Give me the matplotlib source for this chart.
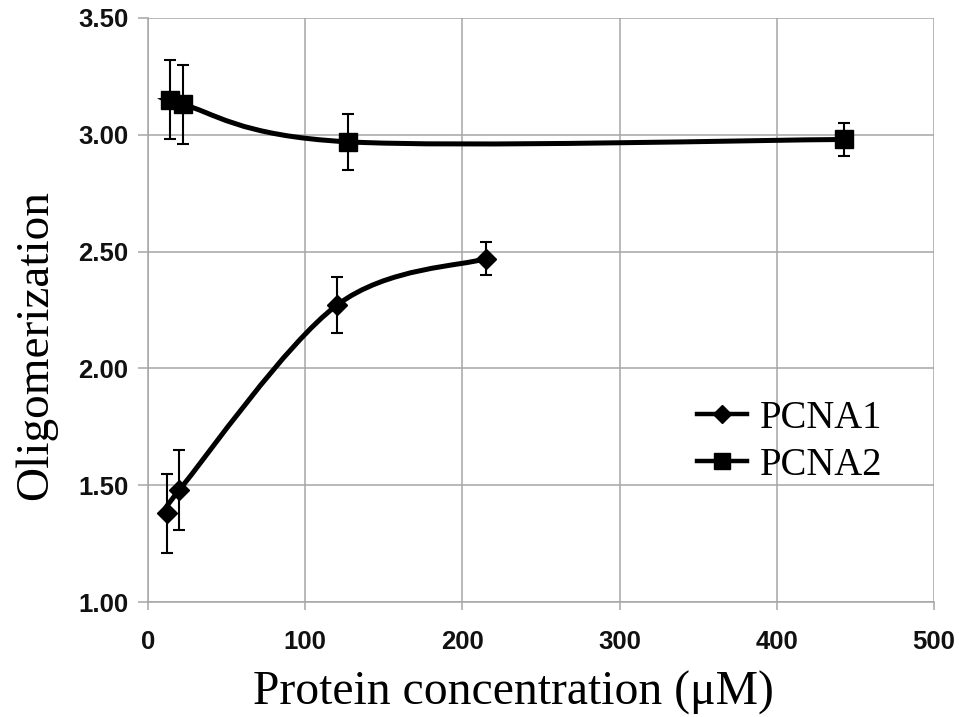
import numpy as np
import matplotlib
matplotlib.use("Agg")
import matplotlib.pyplot as plt
from matplotlib.path import Path
from matplotlib.patches import PathPatch
from matplotlib.lines import Line2D

# ---- data ----
pcna1_x = [12, 20, 120, 215]
pcna1_y = [1.38, 1.48, 2.27, 2.47]
pcna1_err_lo = [0.17, 0.17, 0.12, 0.07]
pcna1_err_hi = [0.17, 0.17, 0.12, 0.07]

pcna2_x = [14, 22, 127, 443]
pcna2_y = [3.15, 3.13, 2.97, 2.98]
pcna2_err_lo = [0.17, 0.17, 0.12, 0.07]
pcna2_err_hi = [0.17, 0.17, 0.12, 0.07]

series_names = ["PCNA1", "PCNA2"]
x_ticks = [0, 100, 200, 300, 400, 500]
y_ticks = [1.00, 1.50, 2.00, 2.50, 3.00, 3.50]
x_label = "Protein concentration (\u03bcM)"
y_label = "Oligomerization"

GRID = "#a6a6a6"

fig = plt.figure(figsize=(9.59, 7.17), dpi=100)
ax = fig.add_axes([148/959, 1 - 602/717, 786/959, 584/717])


def smooth_path(xs, ys):
    """Excel-like smoothed line (Catmull-Rom as cubic Bezier)."""
    pts = np.column_stack([xs, ys]).astype(float)
    n = len(pts)
    verts = [pts[0]]
    codes = [Path.MOVETO]
    for i in range(n - 1):
        p0 = pts[i - 1] if i > 0 else pts[i]
        p1 = pts[i]
        p2 = pts[i + 1]
        p3 = pts[i + 2] if i + 2 < n else pts[i + 1]
        c1 = p1 + (p2 - p0) / 6.0
        c2 = p2 - (p3 - p1) / 6.0
        verts += [c1, c2, p2]
        codes += [Path.CURVE4] * 3
    return Path(verts, codes)


for xs, ys in [(pcna1_x, pcna1_y), (pcna2_x, pcna2_y)]:
    ax.add_patch(PathPatch(smooth_path(xs, ys), fill=False, lw=3.6,
                           edgecolor="black", zorder=3, capstyle="round"))

ax.errorbar(pcna1_x, pcna1_y, yerr=[pcna1_err_lo, pcna1_err_hi], fmt="D",
            ms=10, color="black", ecolor="black", elinewidth=1.5,
            capsize=4, capthick=1.5, zorder=4)
ax.errorbar(pcna2_x, pcna2_y, yerr=[pcna2_err_lo, pcna2_err_hi], fmt="s",
            ms=13, color="black", ecolor="black", elinewidth=1.5,
            capsize=4, capthick=1.5, zorder=4)

ax.set_xlim(0, 500)
ax.set_ylim(1.0, 3.5)
ax.set_xticks(x_ticks)
ax.set_yticks(y_ticks)
ax.set_xticklabels([str(t) for t in x_ticks])
ax.set_yticklabels(["%.2f" % t for t in y_ticks])
ax.grid(True, color=GRID, lw=1.1, zorder=0)
ax.set_axisbelow(True)
for s in ["top", "right"]:
    ax.spines[s].set_visible(False)
for s in ["left", "bottom"]:
    ax.spines[s].set_color(GRID)
    ax.spines[s].set_linewidth(1.1)

tick_font = dict(family="Liberation Sans", weight="bold", size=18.5)
ax.tick_params(axis="x", direction="out", length=6, width=1.1, color=GRID,
               pad=14, labelcolor="#111111")
ax.tick_params(axis="y", direction="out", length=7, width=1.1, color=GRID,
               pad=7, labelcolor="#111111")
for lab in ax.get_xticklabels() + ax.get_yticklabels():
    lab.set_fontproperties(matplotlib.font_manager.FontProperties(**tick_font))

fig.text(253/959, 1 - 705/717, x_label, family="Liberation Serif", size=34.3,
         ha="left", va="baseline")
fig.text(47/959, 1 - 345/717, y_label, family="Liberation Serif", size=34,
         rotation=90, rotation_mode="anchor", ha="center", va="baseline")

handles = [Line2D([], [], color="black", lw=3.2, marker="D", ms=9),
           Line2D([], [], color="black", lw=3.2, marker="s", ms=12)]
leg = ax.legend(handles, series_names, loc="upper left",
                bbox_to_anchor=(697/959, 1 - 400/717),
                bbox_transform=fig.transFigure, frameon=False,
                prop=dict(family="Liberation Serif", size=27.8),
                handlelength=1.3, handletextpad=0.34, labelspacing=0.25,
                borderpad=0, borderaxespad=0)

fig.savefig("out.png", dpi=100)
